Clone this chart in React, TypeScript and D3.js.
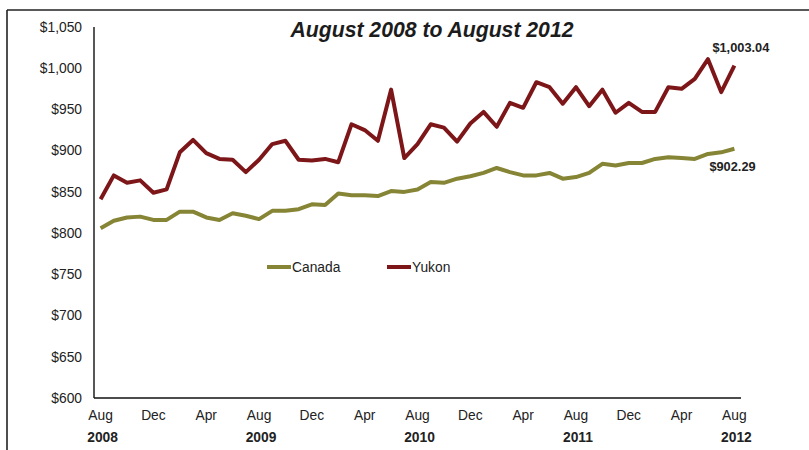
import React from "react";
import * as d3 from "d3";

const months = [
  "2008-08","2008-09","2008-10","2008-11","2008-12",
  "2009-01","2009-02","2009-03","2009-04","2009-05","2009-06","2009-07","2009-08","2009-09","2009-10","2009-11","2009-12",
  "2010-01","2010-02","2010-03","2010-04","2010-05","2010-06","2010-07","2010-08","2010-09","2010-10","2010-11","2010-12",
  "2011-01","2011-02","2011-03","2011-04","2011-05","2011-06","2011-07","2011-08","2011-09","2011-10","2011-11","2011-12",
  "2012-01","2012-02","2012-03","2012-04","2012-05","2012-06","2012-07","2012-08",
];

const canada = [
  806, 815, 819, 820, 816, 816, 826, 826, 819, 816, 824, 821, 817,
  827, 827, 829, 835, 834, 848, 846, 846, 845, 851, 850, 853,
  862, 861, 866, 869, 873, 879, 874, 870, 870, 873, 866, 868,
  873, 884, 882, 885, 885, 890, 892, 891, 890, 896, 898, 902.29,
];

const yukon = [
  841, 870, 861, 864, 849, 853, 898, 913, 897, 890, 889, 874, 889,
  908, 912, 889, 888, 890, 886, 932, 925, 912, 974, 891, 908,
  932, 928, 911, 933, 947, 929, 958, 952, 983, 977, 957, 977,
  954, 974, 946, 958, 947, 947, 977, 975, 987, 1011, 971, 1003.04,
];

const yTicks = [600, 650, 700, 750, 800, 850, 900, 950, 1000, 1050];
const monthTickLabels = ["Aug","Dec","Apr","Aug","Dec","Apr","Aug","Dec","Apr","Aug","Dec","Apr","Aug"];
const yearTickLabels = ["2008", "2009", "2010", "2011", "2012"];
const seriesNames = ["Canada", "Yukon"];
const title = "August 2008 to August 2012";

const COLORS = { Canada: "#868536", Yukon: "#7d1618" };
const FONT = "Arial, 'Liberation Sans', Helvetica, sans-serif";

export default function App() {
  const W = 809, H = 450;
  const x = d3.scaleBand<string>().domain(months).range([94, 741]).paddingInner(0).paddingOuter(0);
  const cx = (m: string) => (x(m) as number) + x.bandwidth() / 2;
  const y = d3.scaleLinear().domain([600, 1050]).range([398, 27]);

  const line = d3.line<number>()
    .x((_, i) => cx(months[i]))
    .y((d) => y(d));

  const fmt = d3.format("$,.0f");
  const fmt2 = d3.format("$,.2f");
  const last = months.length - 1;

  return (
    <svg width={W} height={H} style={{ position: "absolute", left: 0, top: 0, background: "#fff" }} fontFamily={FONT}>
      <rect x={0} y={0} width={W} height={H} fill="#fff" />
      {/* frame */}
      <line x1={7} x2={W} y1={10} y2={10} stroke="#222" strokeWidth={1.6} />
      <line x1={7} x2={7} y1={10} y2={H} stroke="#222" strokeWidth={1.6} />

      {/* title */}
      <text x={432} y={37} textAnchor="middle" fontSize={21.2} fontWeight="bold" fontStyle="italic" fill="#1c1c1c">
        {title}
      </text>

      {/* y tick labels */}
      {yTicks.map((t) => (
        <text key={t} x={82} y={y(t)} dy="0.35em" textAnchor="end" fontSize={13.8} fill="#222">
          {fmt(t)}
        </text>
      ))}

      {/* x labels */}
      {monthTickLabels.map((lab, k) => {
        const m = months[k * 4];
        return (
          <text key={"m" + k} x={cx(m)} y={415} dy="0.35em" textAnchor="middle" fontSize={13.8} fill="#222">
            {lab}
          </text>
        );
      })}
      {yearTickLabels.map((lab, k) => {
        const m = months[k * 12];
        return (
          <text key={"y" + k} x={cx(m) + 2} y={437} dy="0.35em" textAnchor="middle" fontSize={13.8} fontWeight="bold" fill="#222">
            {lab}
          </text>
        );
      })}

      {/* axes */}
      <line x1={94} x2={94} y1={27} y2={398} stroke="#111" strokeWidth={1.4} />
      <line x1={94} x2={741} y1={398} y2={398} stroke="#111" strokeWidth={1.4} />

      {/* lines */}
      <path d={line(canada) || ""} fill="none" stroke={COLORS.Canada} strokeWidth={4} strokeLinejoin="round" />
      <path d={line(yukon) || ""} fill="none" stroke={COLORS.Yukon} strokeWidth={4} strokeLinejoin="round" />

      {/* end labels */}
      <text x={cx(months[last]) - 22} y={y(yukon[last]) - 14} fontSize={12.8} fontWeight="bold" fill="#222">
        {fmt2(yukon[last])}
      </text>
      <text x={cx(months[last]) - 25} y={y(canada[last]) + 22} fontSize={12.8} fontWeight="bold" fill="#222">
        {fmt2(canada[last])}
      </text>

      {/* legend */}
      {seriesNames.map((name, i) => {
        const lx = i === 0 ? 267 : 387;
        return (
          <g key={name}>
            <line x1={lx} x2={lx + 24} y1={267} y2={267} stroke={COLORS[name as "Canada" | "Yukon"]} strokeWidth={4} />
            <text x={lx + 25} y={267} dy="0.35em" fontSize={13.8} fill="#222">
              {name}
            </text>
          </g>
        );
      })}
    </svg>
  );
}
